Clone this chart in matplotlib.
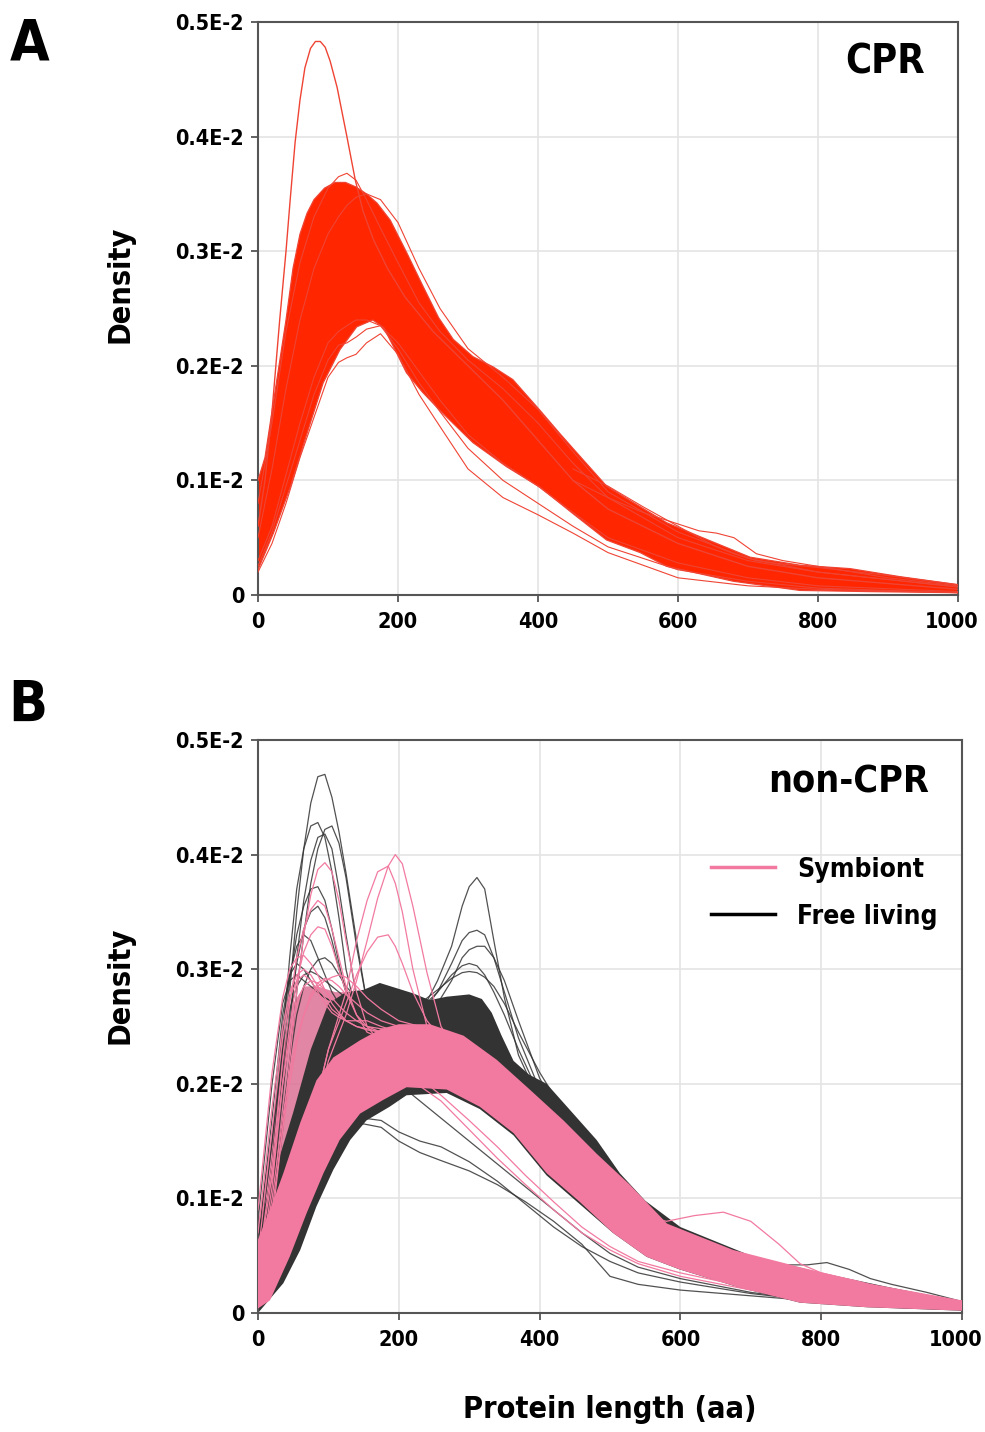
import matplotlib
matplotlib.use('Agg')
import matplotlib.pyplot as plt
from matplotlib import font_manager
from matplotlib.lines import Line2D
from matplotlib.transforms import ScaledTranslation

# narrow bold face like the original if one is installed
_fonts = font_manager.fontManager.ttflist
_names = {f.name for f in _fonts}
if 'Liberation Sans Narrow' in _names:
    plt.rcParams['font.family'] = ['Liberation Sans Narrow', 'DejaVu Sans']
    SCALE = 1.08
elif any(f.name == 'DejaVu Sans' and 'condensed' in str(f.stretch) for f in _fonts):
    plt.rcParams['font.family'] = ['DejaVu Sans']
    plt.rcParams['font.stretch'] = 'condensed'
    SCALE = 1.0
else:
    plt.rcParams['font.family'] = ['Liberation Sans', 'DejaVu Sans']
    SCALE = 0.95
plt.rcParams['font.weight'] = 'bold'

# densities are in units of 0.1E-2 (1e-3)
Y_TICKS = [0, 1, 2, 3, 4, 5]
Y_LABELS = ['0', '0.1E-2', '0.2E-2', '0.3E-2', '0.4E-2', '0.5E-2']
X_TICKS = [0, 200, 400, 600, 800, 1000]

# ---- panel A (CPR) : envelope of the dense bundle of curves
A_UP_X = [0, 10, 20, 30, 40, 50, 60, 70, 80, 95, 110, 125, 140, 155, 170, 189, 213, 236, 258,
          279, 307, 336, 364, 403, 431, 460, 498, 546, 584, 631, 703, 774, 846, 917, 1000]
A_UP_Y = [1.0, 1.2, 1.6, 2.0, 2.4, 2.85, 3.15, 3.33, 3.45, 3.55, 3.6, 3.6, 3.56, 3.5, 3.42, 3.27,
          2.98, 2.69, 2.42, 2.23, 2.08, 1.99, 1.88, 1.61, 1.41, 1.21, 0.95, 0.77, 0.63, 0.51, 0.33,
          0.26, 0.23, 0.16, 0.09]
A_LO_X = [0, 22, 46, 70, 93, 117, 141, 164, 180, 195, 212, 235, 260, 307, 355, 403, 450, 498,
          546, 584, 679, 774, 870, 1000]
A_LO_Y = [0.22, 0.54, 0.94, 1.41, 1.85, 2.14, 2.34, 2.4, 2.33, 2.15, 1.94, 1.77, 1.61, 1.33, 1.12,
          0.94, 0.71, 0.48, 0.37, 0.25, 0.12, 0.04, 0.03, 0.02]

# individual curves standing out of the bundle
A_TALL_X = [0, 10, 20, 31, 40, 46, 53, 60, 67, 75, 82, 89, 96, 103, 113, 127, 139, 150, 165, 185,
            210, 250, 300, 350, 400, 450, 500, 600, 700, 800, 1000]
A_TALL_Y = [0.6, 1.0, 1.6, 2.4, 3.0, 3.45, 3.95, 4.32, 4.6, 4.77, 4.83, 4.83, 4.78, 4.66, 4.43,
            4.0, 3.62, 3.35, 3.1, 2.85, 2.6, 2.3, 2.0, 1.7, 1.35, 1.0, 0.75, 0.45, 0.25, 0.15, 0.05]
A_X = [0, 20, 40, 60, 80, 100, 115, 127, 140, 155, 175, 200, 230, 260, 300, 350, 400, 450, 500,
       600, 700, 800, 1000]
A_HIGH1 = [0.8, 1.5, 2.3, 2.9, 3.3, 3.55, 3.65, 3.68, 3.62, 3.45, 3.2, 2.9, 2.55, 2.3, 2.05, 1.8,
           1.5, 1.15, 0.85, 0.5, 0.3, 0.2, 0.07]
A_HIGH2 = [0.5, 1.1, 1.8, 2.4, 2.85, 3.15, 3.3, 3.4, 3.47, 3.5, 3.45, 3.25, 2.85, 2.5, 2.15, 1.9,
           1.62, 1.25, 0.9, 0.55, 0.32, 0.2, 0.07]
A_LOW1 = [0.2, 0.45, 0.8, 1.2, 1.55, 1.9, 2.03, 2.07, 2.1, 2.2, 2.28, 2.1, 1.75, 1.47, 1.1, 0.85,
          0.7, 0.54, 0.37, 0.15, 0.08, 0.05, 0.02]
A_LOW2 = [0.25, 0.55, 0.95, 1.35, 1.75, 2.05, 2.18, 2.2, 2.25, 2.32, 2.35, 2.15, 1.85, 1.6, 1.28,
          1.0, 0.8, 0.6, 0.42, 0.22, 0.12, 0.06, 0.02]
A_LOW3 = [0.3, 0.6, 1.05, 1.5, 1.9, 2.2, 2.3, 2.35, 2.4, 2.4, 2.35, 2.2, 1.95, 1.7, 1.4, 1.15,
          0.95, 0.72, 0.5, 0.28, 0.15, 0.08, 0.03]
A_TAIL_X = [450, 500, 550, 600, 630, 655, 680, 712, 750, 800, 900, 1000]
A_TAIL1 = [1.0, 0.85, 0.72, 0.62, 0.56, 0.54, 0.5, 0.36, 0.3, 0.25, 0.15, 0.08]
A_TAIL2 = [1.1, 0.95, 0.77, 0.6, 0.5, 0.42, 0.36, 0.3, 0.27, 0.24, 0.17, 0.09]

# ---- panel B (non-CPR)
B_PINK_UP_X = [0, 20, 36, 60, 83, 107, 145, 175, 200, 244, 292, 339, 386, 434, 481, 528, 581,
               675, 770, 865, 1000]
B_PINK_UP_Y = [0.64, 0.95, 1.22, 1.66, 2.03, 2.23, 2.38, 2.48, 2.52, 2.52, 2.42, 2.21, 1.95, 1.68,
               1.39, 1.12, 0.78, 0.55, 0.4, 0.26, 0.11]
B_PINK_LO_X = [0, 17, 45, 69, 93, 116, 145, 178, 211, 268, 315, 363, 410, 457, 504, 552, 599,
               685, 770, 865, 1000]
B_PINK_LO_Y = [0.04, 0.11, 0.49, 0.87, 1.22, 1.51, 1.74, 1.86, 1.97, 1.95, 1.8, 1.57, 1.22, 0.97,
               0.7, 0.49, 0.38, 0.22, 0.09, 0.05, 0.02]
B_DARK_UP_X = [0, 25, 50, 75, 100, 125, 150, 173, 220, 244, 268, 300, 318, 332, 346, 363, 385,
               410, 439, 481, 514, 550, 600, 700, 800, 900, 1000]
B_DARK_UP_Y = [0.75, 1.25, 1.75, 2.3, 2.7, 2.8, 2.82, 2.88, 2.79, 2.73, 2.76, 2.78, 2.74, 2.62,
               2.42, 2.2, 2.08, 2.0, 1.8, 1.51, 1.22, 0.98, 0.75, 0.5, 0.35, 0.22, 0.1]
B_DARK_LO_X = [0, 36, 60, 83, 107, 131, 154, 187, 211, 268, 315, 363, 410, 457, 504, 552, 599,
               685, 770, 865, 1000]
B_DARK_LO_Y = [0.0, 0.26, 0.55, 0.93, 1.25, 1.51, 1.68, 1.8, 1.9, 1.92, 1.78, 1.55, 1.2, 0.95,
               0.7, 0.49, 0.38, 0.22, 0.09, 0.05, 0.02]
# tangle of steep curves left of the bundle
B_FAN_X = [0, 20, 35, 50, 65, 85, 110, 140, 175]
B_FAN_Y = [0.75, 1.6, 2.3, 2.7, 2.85, 2.85, 2.8, 2.8, 2.85]

# curves peaking near 90 aa
B_LEFT_X = [0, 20, 35, 45, 55, 65, 75, 85, 95, 105, 115, 125, 140, 155, 175, 200, 230, 260, 300]
B_TAIL_X = [350, 400, 450, 500, 600, 700, 800, 900, 1000]
B_TAIL_Y = [2.0, 1.6, 1.25, 0.95, 0.6, 0.4, 0.28, 0.18, 0.1]
FREE_LEFT = [
    [0.3, 1.0, 2.1, 2.8, 3.5, 4.05, 4.45, 4.68, 4.7, 4.5, 4.2, 3.84, 3.25, 2.7, 2.3, 2.15, 2.3, 2.35, 2.2],
    [0.4, 1.3, 2.4, 3.1, 3.7, 4.05, 4.25, 4.28, 4.15, 3.85, 3.45, 3.0, 2.6, 2.35, 2.2, 2.2, 2.3, 2.3, 2.15],
    [0.2, 0.8, 1.6, 2.2, 2.8, 3.3, 3.75, 4.05, 4.22, 4.25, 4.1, 3.8, 3.2, 2.7, 2.4, 2.3, 2.4, 2.4, 2.2],
    [0.3, 1.0, 1.9, 2.5, 3.1, 3.6, 3.95, 4.15, 4.18, 4.05, 3.7, 3.3, 2.75, 2.45, 2.3, 2.25, 2.3, 2.3, 2.15],
    [0.4, 1.3, 2.3, 2.9, 3.3, 3.55, 3.7, 3.72, 3.6, 3.35, 3.05, 2.8, 2.55, 2.45, 2.4, 2.35, 2.4, 2.35, 2.2],
    [0.3, 1.0, 2.0, 2.6, 3.05, 3.35, 3.5, 3.55, 3.45, 3.25, 3.0, 2.8, 2.6, 2.5, 2.45, 2.4, 2.45, 2.4, 2.2],
    [0.5, 1.5, 2.5, 2.95, 3.2, 3.3, 3.25, 3.1, 2.95, 2.8, 2.7, 2.65, 2.6, 2.6, 2.55, 2.5, 2.45, 2.4, 2.2],
    [0.2, 0.9, 1.7, 2.2, 2.6, 2.85, 3.0, 3.08, 3.1, 3.05, 2.95, 2.85, 2.75, 2.7, 2.7, 2.65, 2.6, 2.5, 2.3],
    [0.6, 1.7, 2.6, 2.95, 3.05, 3.0, 2.9, 2.8, 2.75, 2.72, 2.7, 2.7, 2.68, 2.66, 2.62, 2.55, 2.5, 2.4, 2.2],
    [0.8, 2.0, 2.7, 2.9, 2.95, 2.9, 2.85, 2.8, 2.75, 2.72, 2.7, 2.68, 2.66, 2.62, 2.58, 2.52, 2.48, 2.4, 2.2],
    [0.5, 1.5, 2.3, 2.65, 2.85, 2.95, 2.98, 2.95, 2.9, 2.85, 2.8, 2.75, 2.7, 2.66, 2.6, 2.55, 2.5, 2.4, 2.2],
]
SYMB_LEFT = [
    [0.2, 0.8, 1.6, 2.2, 2.8, 3.3, 3.65, 3.87, 3.93, 3.85, 3.6, 3.25, 2.8, 2.5, 2.35, 2.3, 2.35, 2.3, 2.15],
    [0.3, 1.1, 2.0, 2.5, 2.9, 3.15, 3.3, 3.37, 3.35, 3.2, 3.0, 2.8, 2.6, 2.5, 2.45, 2.4, 2.4, 2.3, 2.1],
    [0.4, 1.3, 2.2, 2.7, 3.1, 3.35, 3.52, 3.6, 3.55, 3.35, 3.1, 2.85, 2.6, 2.45, 2.4, 2.35, 2.35, 2.3, 2.1],
    [0.3, 1.0, 1.7, 2.1, 2.4, 2.6, 2.75, 2.85, 2.9, 2.93, 2.95, 2.93, 2.85, 2.75, 2.65, 2.55, 2.5, 2.4, 2.2],
    [0.5, 1.6, 2.4, 2.75, 2.9, 2.95, 2.9, 2.8, 2.7, 2.62, 2.58, 2.55, 2.55, 2.55, 2.5, 2.45, 2.4, 2.3, 2.1],
    [0.7, 1.8, 2.5, 2.8, 2.95, 3.0, 2.95, 2.85, 2.75, 2.65, 2.6, 2.55, 2.5, 2.48, 2.45, 2.42, 2.4, 2.3, 2.1],
    [0.4, 1.2, 2.0, 2.4, 2.7, 2.85, 2.9, 2.88, 2.82, 2.75, 2.68, 2.62, 2.55, 2.5, 2.48, 2.45, 2.4, 2.3, 2.1],
    [0.9, 2.1, 2.75, 3.0, 3.1, 3.12, 3.05, 2.95, 2.82, 2.7, 2.62, 2.55, 2.5, 2.47, 2.45, 2.42, 2.4, 2.3, 2.1],
    [0.3, 0.9, 1.6, 2.0, 2.35, 2.6, 2.78, 2.88, 2.92, 2.9, 2.85, 2.78, 2.7, 2.62, 2.55, 2.5, 2.45, 2.35, 2.15],
]
# symbiont curves peaking near 180-200 aa
B_MID_X = [0, 50, 100, 125, 140, 155, 170, 185, 195, 205, 220, 240, 260, 280, 300]
SYMB_MID = [
    [0.1, 1.0, 2.2, 2.6, 2.9, 3.25, 3.62, 3.9, 4.0, 3.92, 3.55, 2.97, 2.5, 2.3, 2.2],
    [0.1, 1.0, 2.3, 2.8, 3.25, 3.6, 3.85, 3.9, 3.75, 3.5, 3.0, 2.5, 2.3, 2.2, 2.15],
    [0.1, 1.0, 2.3, 2.7, 2.95, 3.15, 3.28, 3.3, 3.2, 3.05, 2.8, 2.55, 2.4, 2.3, 2.2],
]
# free-living curves with a second mode near 310 aa
B_RIGHT_X = [0, 50, 100, 150, 200, 230, 255, 275, 290, 300, 311, 322, 335, 350, 370, 400, 450,
             500, 600, 700, 800, 900, 1000]
FREE_RIGHT = [
    [0.1, 1.2, 2.4, 2.6, 2.55, 2.6, 2.9, 3.2, 3.55, 3.72, 3.8, 3.7, 3.25, 2.75, 2.25, 1.85, 1.4, 1.0, 0.55, 0.35, 0.25, 0.15, 0.08],
    [0.1, 1.1, 2.3, 2.55, 2.55, 2.6, 2.8, 3.05, 3.25, 3.32, 3.34, 3.3, 3.1, 2.8, 2.4, 1.95, 1.45, 1.0, 0.55, 0.35, 0.25, 0.15, 0.08],
    [0.1, 1.0, 2.2, 2.5, 2.5, 2.55, 2.7, 2.9, 3.1, 3.17, 3.2, 3.2, 3.1, 2.9, 2.55, 2.05, 1.5, 1.05, 0.55, 0.35, 0.25, 0.15, 0.08],
    [0.1, 1.2, 2.5, 2.7, 2.6, 2.65, 2.8, 2.95, 3.03, 3.05, 3.03, 2.95, 2.8, 2.6, 2.3, 1.9, 1.4, 1.0, 0.55, 0.35, 0.25, 0.15, 0.08],
    [0.1, 1.1, 2.4, 2.65, 2.65, 2.7, 2.82, 2.92, 2.97, 2.98, 2.97, 2.93, 2.85, 2.7, 2.45, 2.1, 1.6, 1.1, 0.6, 0.38, 0.26, 0.16, 0.08],
]
# curves running under the bundle
B_LOW_X = [0, 25, 50, 75, 100, 125, 150, 175, 200, 230, 260, 300, 340, 380, 420, 460, 500, 540,
           600, 700, 800, 900, 1000]
FREE_LOW = [
    [0.05, 0.3, 0.65, 1.05, 1.4, 1.6, 1.65, 1.62, 1.5, 1.4, 1.33, 1.24, 1.12, 0.97, 0.8, 0.6, 0.32, 0.25, 0.2, 0.15, 0.1, 0.05, 0.03],
    [0.05, 0.25, 0.6, 1.0, 1.35, 1.58, 1.7, 1.68, 1.58, 1.5, 1.45, 1.32, 1.15, 0.95, 0.75, 0.58, 0.45, 0.35, 0.27, 0.17, 0.1, 0.06, 0.03],
    [0.05, 0.3, 0.7, 1.15, 1.55, 1.85, 2.0, 2.05, 2.0, 1.85, 1.7, 1.5, 1.3, 1.1, 0.9, 0.7, 0.52, 0.4, 0.3, 0.18, 0.1, 0.06, 0.03],
]
SYMB_LOW = [
    [0.05, 0.35, 0.8, 1.3, 1.7, 1.95, 2.1, 2.15, 2.1, 1.98, 1.85, 1.6, 1.35, 1.12, 0.9, 0.7, 0.55, 0.43, 0.32, 0.2, 0.12, 0.07, 0.03],
    [0.05, 0.4, 0.9, 1.4, 1.8, 2.05, 2.2, 2.25, 2.2, 2.05, 1.9, 1.68, 1.45, 1.2, 0.97, 0.75, 0.58, 0.45, 0.35, 0.22, 0.13, 0.08, 0.04],
]
# tail outliers
B_BUMP_X = [450, 500, 550, 580, 620, 661, 700, 740, 770, 800, 850, 900, 1000]
SYMB_BUMP = [1.25, 1.0, 0.85, 0.8, 0.85, 0.88, 0.8, 0.6, 0.43, 0.35, 0.28, 0.2, 0.1]
FREE_BUMP_X = [650, 700, 750, 780, 808, 840, 870, 900, 950, 1000]
FREE_BUMP = [0.55, 0.47, 0.42, 0.42, 0.44, 0.38, 0.3, 0.25, 0.18, 0.1]

RED = '#ff2600'
RED_LINE = '#ef4434'
PINK = '#f27aa0'
DARK = '#333333'

fig = plt.figure(figsize=(9.85, 14.32), dpi=100)
ax_a = fig.add_axes([258 / 985, 1 - 595 / 1432, 700 / 985, 573 / 1432])
ax_b = fig.add_axes([258 / 985, 1 - 1313 / 1432, 704 / 985, 573 / 1432])


def style_axes(ax):
    ax.set_xlim(0, 1000)
    ax.set_ylim(0, 5)
    ax.set_xticks(X_TICKS)
    ax.set_xticklabels([str(t) for t in X_TICKS])
    ax.set_yticks(Y_TICKS)
    ax.set_yticklabels(Y_LABELS)
    ax.grid(True, color='#e4e4e4', linewidth=1.2)
    ax.set_axisbelow(True)
    for side in ax.spines.values():
        side.set_color('#555555')
        side.set_linewidth(1.5)
    ax.tick_params(axis='both', direction='out', length=5, width=1.3, color='#555555',
                   labelsize=15.5 * SCALE, pad=5)
    ax.tick_params(axis='x', pad=7)
    for lab in ax.get_xticklabels() + ax.get_yticklabels():
        lab.set_fontweight('bold')
    # keep the last x label inside the figure, as in the original
    last = ax.get_xticklabels()[-1]
    last.set_horizontalalignment('right')
    last.set_transform(last.get_transform() + ScaledTranslation(0.2, 0, fig.dpi_scale_trans))


# panel A
style_axes(ax_a)
ax_a.fill(A_UP_X + A_LO_X[::-1], A_UP_Y + A_LO_Y[::-1], color=RED, lw=0, zorder=2)
ax_a.plot(A_UP_X, A_UP_Y, color=RED_LINE, lw=0.9, zorder=3)
ax_a.plot(A_LO_X, A_LO_Y, color=RED_LINE, lw=0.9, zorder=3)
ax_a.plot(A_TALL_X, A_TALL_Y, color=RED_LINE, lw=1.0, zorder=3)
for ys in [A_HIGH1, A_HIGH2, A_LOW1, A_LOW2, A_LOW3]:
    ax_a.plot(A_X, ys, color=RED_LINE, lw=0.8, zorder=3)
for ys in [A_TAIL1, A_TAIL2]:
    ax_a.plot(A_TAIL_X, ys, color=RED_LINE, lw=0.8, zorder=3)
ax_a.text(0.953, 0.93, 'CPR', transform=ax_a.transAxes, ha='right', va='center',
          fontsize=28.5 * SCALE, fontweight='bold')

# panel B
style_axes(ax_b)
ax_b.fill(B_FAN_X + B_PINK_UP_X[:7][::-1], B_FAN_Y + B_PINK_UP_Y[:7][::-1], color='#dc7195',
          alpha=0.85, lw=0, zorder=1.9)
ax_b.fill(B_DARK_UP_X + B_DARK_LO_X[::-1], B_DARK_UP_Y + B_DARK_LO_Y[::-1], color=DARK, lw=0, zorder=2)
for ys in FREE_LEFT:
    ax_b.plot(B_LEFT_X + B_TAIL_X, ys + B_TAIL_Y, color=DARK, lw=0.9, alpha=0.85, zorder=2.5)
for ys in FREE_RIGHT:
    ax_b.plot(B_RIGHT_X, ys, color=DARK, lw=0.9, alpha=0.85, zorder=2.5)
for ys in FREE_LOW:
    ax_b.plot(B_LOW_X, ys, color=DARK, lw=0.9, alpha=0.85, zorder=2.5)
ax_b.plot(FREE_BUMP_X, FREE_BUMP, color=DARK, lw=0.9, alpha=0.85, zorder=2.5)
ax_b.fill(B_PINK_UP_X + B_PINK_LO_X[::-1], B_PINK_UP_Y + B_PINK_LO_Y[::-1], color=PINK, lw=0, zorder=3)
for ys in SYMB_LEFT:
    ax_b.plot(B_LEFT_X + B_TAIL_X, ys + B_TAIL_Y, color=PINK, lw=0.9, zorder=3.5)
for ys in SYMB_MID:
    ax_b.plot(B_MID_X + B_TAIL_X, ys + B_TAIL_Y, color=PINK, lw=0.9, zorder=3.5)
for ys in SYMB_LOW:
    ax_b.plot(B_LOW_X, ys, color=PINK, lw=0.9, zorder=3.5)
ax_b.plot(B_BUMP_X, SYMB_BUMP, color=PINK, lw=0.9, zorder=3.5)
ax_b.text(0.953, 0.925, 'non-CPR', transform=ax_b.transAxes, ha='right', va='center',
          fontsize=27 * SCALE, fontweight='bold')

handles = [Line2D([], [], color=PINK, lw=2.5), Line2D([], [], color='black', lw=2.5)]
ax_b.legend(handles, ['Symbiont', 'Free living'], loc='upper left', bbox_to_anchor=(0.61, 0.838),
            frameon=False, handlelength=2.4, handletextpad=0.87, labelspacing=0.8,
            prop={'weight': 'bold', 'size': 19 * SCALE})

# panel letters and shared labels
fig.text(10 / 985, 1 - 45 / 1432, 'A', fontsize=41 * SCALE, fontweight='bold', va='center', ha='left')
fig.text(8 / 985, 1 - 706 / 1432, 'B', fontsize=41 * SCALE, fontweight='bold', va='center', ha='left')
fig.text(120 / 985, 1 - 284 / 1432, 'Density', rotation=90, fontsize=22 * SCALE, fontweight='bold',
         ha='center', va='center')
fig.text(120 / 985, 1 - 985 / 1432, 'Density', rotation=90, fontsize=22 * SCALE, fontweight='bold',
         ha='center', va='center')
fig.text(610 / 985, 1 - 1410 / 1432, 'Protein length (aa)', fontsize=22 * SCALE, fontweight='bold',
         ha='center', va='center')

fig.savefig('out.png', dpi=100)
plt.close()
